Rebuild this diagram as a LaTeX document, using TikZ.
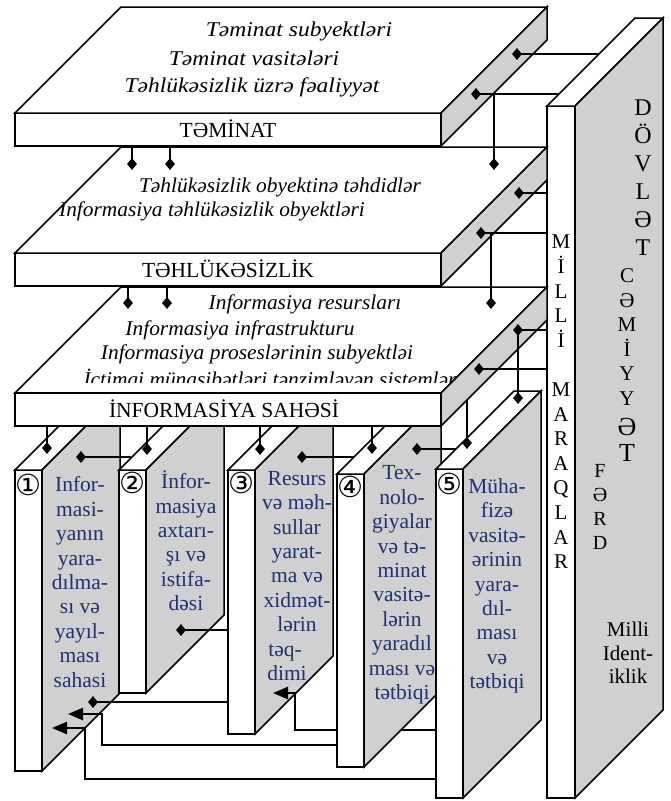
\documentclass[tikz,border=0pt]{standalone}
\usepackage{fontspec}
\usepackage{graphicx}
\setmainfont{Liberation Serif}
\newfontfamily\tnr{Liberation Serif}
\newfontfamily\circfont{DejaVu Sans}
\usetikzlibrary{shapes.geometric,arrows.meta}
\definecolor{pgray}{RGB}{208,208,208}
\definecolor{navy}{RGB}{30,50,115}
\newcommand\pbox[5]{%
  \draw[edge,fill=white] (#1,#4) rectangle ({#1+#2},#5);
  \draw[edge,fill=white] (#1,#4) -- ({#1+#3},{#4-#3}) -- ({#1+#2+#3},{#4-#3}) -- ({#1+#2},#4) -- cycle;
  \draw[edge,fill=pgray] ({#1+#2},#4) -- ({#1+#2+#3},{#4-#3}) -- ({#1+#2+#3},{#5-#3}) -- ({#1+#2},#5) -- cycle;
}
\newcommand\stx[1]{\scalebox{1.12}[1]{#1}}
\newcommand\sty[1]{\scalebox{1.02}[1]{#1}}
\begin{document}
\begin{tikzpicture}[x=1pt,y=-1pt,line join=miter,
  edge/.style={line width=1.5pt},
  conn/.style={line width=2.4pt},
  dia/.style={diamond,fill=black,draw=none,inner sep=0pt,minimum width=10pt,minimum height=12pt},
  lab/.style={font=\tnr\fontsize{21.5}{24}\selectfont,text height=14pt,text depth=0pt,inner sep=0pt},
  itl/.style={font=\tnr\fontsize{21}{24}\selectfont\itshape,inner sep=0pt,text height=14pt,text depth=5pt},
  ptxt/.style={text=navy,font=\tnr\fontsize{21.5}{24.4}\selectfont,align=center,inner sep=0pt},
  num/.style={font=\circfont\fontsize{29}{29}\selectfont,inner sep=0pt},
  vlet/.style={font=\tnr\fontsize{21}{24.6}\selectfont,align=center,inner sep=0pt},
  arr/.style={conn,-{Triangle[length=15pt,width=12pt]}}]
\useasboundingbox (0,0) rectangle (670,801);

% big right panel
\pbox{547}{28}{88}{106}{798}
% five panels
\pbox{15}{27}{78}{470}{771}
\pbox{119}{27}{78}{470}{693}
\pbox{228}{27}{78}{470}{734}
\pbox{337}{27}{77}{474}{767}
\pbox{436}{27}{78}{469}{798}

% slabs
\pbox{15}{426}{106}{393}{426}
\node[itl] (s3a) at (305,305) {\sty{Informasiya resursları}};
\node[itl] (s3b) at (240,331) {\sty{Informasiya infrastrukturu}};
\node[itl] (s3c) at (257,355) {\sty{Informasiya proseslərinin subyektləi}};
\begin{scope}
\clip (0,340) rectangle (670,382.5);
\node[itl,anchor=base] (s3d) at (270,386) {\sty{İctimai münasibətləri tənzimləyən sistemlər}};
\end{scope}
\draw[edge,fill=white] (15,393) rectangle (441,426);
\node[lab] (l3) at (224,410) {İNFORMASİYA SAHƏSİ};

\pbox{15}{426}{106}{253}{286}
\node[itl] (s2a) at (280,188) {\sty{Təhlükəsizlik obyektinə təhdidlər}};
\node[itl] (s2b) at (212,212) {\sty{Informasiya təhlükəsizlik obyektləri}};
\node[lab] (l2) at (228,270) {TƏHLÜKƏSİZLİK};

\pbox{15}{426}{106}{113}{146}
\node[itl] (s1a) at (299,32) {\stx{Təminat subyektləri}};
\node[itl] (s1b) at (254,61) {\stx{Təminat vasitələri}};
\node[itl] (s1c) at (252,88) {\stx{Təhlükəsizlik üzrə fəaliyyət}};
\node[lab] (l1) at (228,130) {TƏMİNAT};

% connectors slab 1
\node[dia] (d1) at (517,54) {};
\coordinate (e1) at (599,54);
\draw[conn] (d1.center) -- (e1);
\node[dia] (d2) at (476,94) {};
\coordinate (e2) at (559,94);
\draw[conn] (d2.center) -- (e2);
\coordinate (j2) at (494,94);
\node[dia] (d3) at (494,164) {};
\draw[conn] (j2) -- (d3.center);
\coordinate (t4) at (132,146);
\node[dia] (d4) at (132,164) {};
\draw[conn] (t4) -- (d4.center);
\coordinate (t5) at (170,146);
\node[dia] (d5) at (170,164) {};
\draw[conn] (t5) -- (d5.center);
% connectors slab 2
\node[dia] (d6) at (519,193) {};
\coordinate (e6) at (547,193);
\draw[conn] (d6.center) -- (e6);
\node[dia] (d7) at (481,233) {};
\coordinate (e7) at (547,233);
\draw[conn] (d7.center) -- (e7);
\coordinate (j7) at (491,233);
\node[dia] (d8) at (491,303) {};
\draw[conn] (j7) -- (d8.center);
\coordinate (t9) at (128,286);
\node[dia] (d9) at (128,303) {};
\draw[conn] (t9) -- (d9.center);
\coordinate (t10) at (167,286);
\node[dia] (d10) at (167,303) {};
\draw[conn] (t10) -- (d10.center);
% connectors slab 3
\node[dia] (d11) at (518,330) {};
\coordinate (e11) at (547,330);
\draw[conn] (d11.center) -- (e11);
\node[dia] (d12) at (518,398) {};
\draw[conn] (d11.center) -- (d12.center);
\node[dia] (d13) at (479,369) {};
\coordinate (e13) at (547,369);
\draw[conn] (d13.center) -- (e13);
\coordinate (j13) at (467,400);
\node[dia] (d14) at (467,443) {};
\draw[conn] (j13) -- (d14.center);
\coordinate (t15) at (47,426);
\node[dia] (d15) at (47,448) {};
\draw[conn] (t15) -- (d15.center);
\coordinate (t16) at (147,426);
\node[dia] (d16) at (147,449) {};
\draw[conn] (t16) -- (d16.center);
\coordinate (t17) at (260,426);
\node[dia] (d17) at (260,449) {};
\draw[conn] (t17) -- (d17.center);
\coordinate (t18) at (372,426);
\node[dia] (d18) at (372,448) {};
\draw[conn] (t18) -- (d18.center);
% panel links
\node[dia] (d19) at (81,457) {};
\coordinate (e19) at (131,457);
\draw[conn] (d19.center) -- (e19);
\node[dia] (d20) at (302,457) {};
\coordinate (e20) at (354,457);
\draw[conn] (d20.center) -- (e20);
\node[dia] (d21) at (417,449) {};
\coordinate (e21) at (456,449);
\draw[conn] (d21.center) -- (e21);
\node[dia] (d22) at (181,630) {};
\coordinate (e22) at (228,630);
\draw[conn] (d22.center) -- (e22);
\node[dia] (d23) at (93,702) {};
\coordinate (e23) at (228,702);
\draw[conn] (d23.center) -- (e23);
% arrows
\coordinate (a1) at (337,745);
\coordinate (h1) at (68,714);
\draw[arr] (a1) -- (102,745) -- (102,714) -- (h1);
\coordinate (a2) at (436,779);
\coordinate (h2) at (52,728);
\draw[arr] (a2) -- (85,779) -- (85,728) -- (h2);
\coordinate (a3) at (337,730);
\coordinate (h3) at (273,693);
\draw[arr] (a3) -- (295,730) -- (295,693) -- (h3);
\coordinate (b3) at (401,730);
\coordinate (c3) at (436,730);
\draw[conn] (b3) -- (c3);

% numbers
\node[num] (n1) at (28.5,485) {①};
\node[num] (n2) at (132.5,483) {②};
\node[num] (n3) at (241.5,483) {③};
\node[num] (n4) at (350.5,487) {④};
\node[num] (n5) at (449.5,484) {⑤};

% panel texts
\node[ptxt] (p1) at (80,582) {Infor-\\masi-\\yanın\\yara-\\dılma-\\sı və\\yayıl-\\ması\\sahasi};
\node[ptxt] (p2) at (186,541) {İnfor-\\masiya\\axtarı-\\şı və\\istifa-\\dəsi};
\node[ptxt] (p3) at (297,576) {Resurs\\və məh-\\sullar\\yarat-\\ma və\\xidmət-\\lərin\\təq-\makebox[24pt]{}\\dimi\makebox[20pt]{}};
\node[ptxt] (p4) at (402,585) {Tex-\\nolo-\\giyalar\\və tə-\\minat\\vasitə-\\lərin\\yaradıl\\ması və\\tətbiqi};
\node[ptxt] (p5) at (497,586) {Müha-\\fizə\\vasitə-\\ərinin\\yara-\\dıl-\\ması\\və\\tətbiqi};

% right panel texts
\node[vlet] (mm) at (561,402) {M\\İ\\L\\L\\İ\\[24.6pt]M\\A\\R\\A\\Q\\L\\A\\R};
\node[vlet,font=\tnr\fontsize{24}{28}\selectfont] (dv) at (643,178) {D\\Ö\\V\\L\\Ə\\T};
\node[vlet,font=\tnr\fontsize{21}{24.6}\selectfont] (cm) at (627,337) {C\\Ə\\M\\İ\\Y\\Y};
\node[vlet,font=\tnr\fontsize{26}{26}\selectfont] (cm2) at (627,440) {Ə\\T};
\node[vlet,font=\tnr\fontsize{20}{24.3}\selectfont] (fd) at (600,507) {F\\Ə\\R\\D};
\node[vlet,font=\tnr\fontsize{21}{23.5}\selectfont] (mi) at (628,653) {Milli\\Ident-\\iklik};
\end{tikzpicture}
\end{document}
